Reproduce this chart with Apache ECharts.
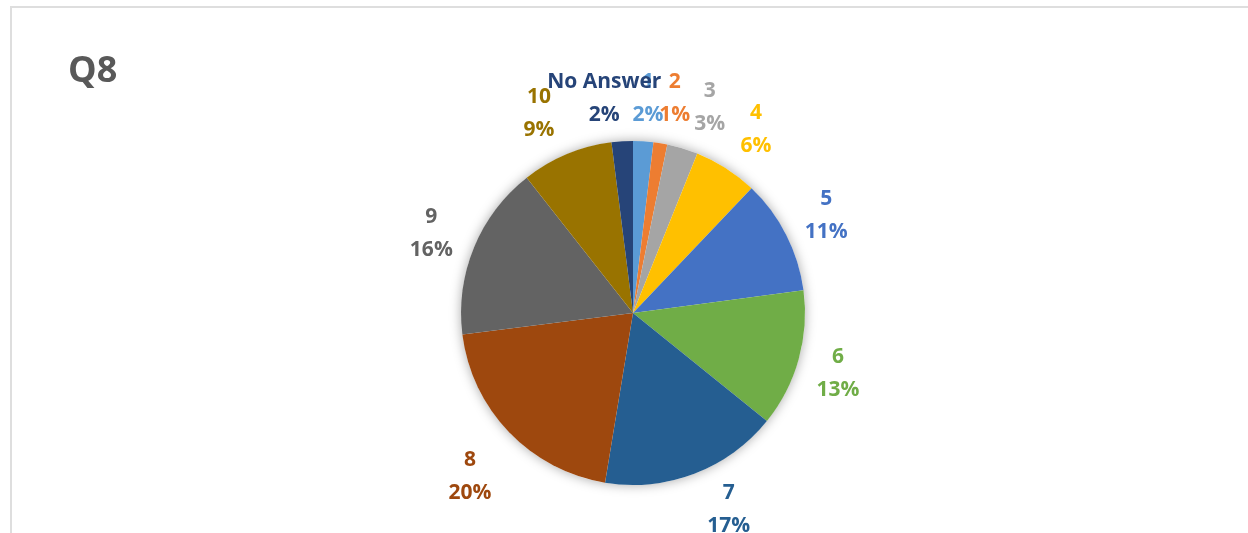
<!DOCTYPE html>
<html>
<head>
<meta charset="utf-8">
<script src="https://cdn.jsdelivr.net/npm/echarts@6/dist/echarts.min.js"></script>
<style>
html, body { margin: 0; padding: 0; background: #fff; }
#frame { position: absolute; left: 10px; top: 6px; width: 1240px; height: 530px; border-top: 2px solid #dedede; border-left: 2px solid #dedede; }
#chart { position: absolute; left: 0; top: 0; width: 1248px; height: 533px; }
</style>
</head>
<body>
<div id="frame"></div>
<div id="chart"></div>
<script>
// Q8 answers (share of respondents, %)
var categories = ['1', '2', '3', '4', '5', '6', '7', '8', '9', '10', 'No Answer'];
var shares = [1.9, 1.3, 2.9, 6.0, 10.8, 12.9, 16.8, 20.4, 16.4, 8.6, 2.0];

// office palette, one per slice
var sliceColors = ['#5B9BD5', '#ED7D31', '#A5A5A5', '#FFC000', '#4472C4', '#70AD47',
	'#255E91', '#9E480E', '#636363', '#997300', '#264478'];

// labels nudged the way Excel placed them
var labelNudge = {
	'No Answer': [-15, 3],
	'1': [2, 3],
	'2': [7, 1],
	'3': [14, 3],
	'4': [5, 0],
	'5': [-1, 1],
	'6': [-5, 2],
	'7': [18, -7],
	'8': [-6, 12],
	'9': [0, 3],
	'10': [-10, 2]
};

var pieCenter = [633, 313];
var pieRadius = 172;
var labelFont = 'Open Sans';

var chart = echarts.init(document.getElementById('chart'));

var total = shares.reduce(function (a, b) { return a + b; }, 0);

var option = {
	animation: false,
	title: {
		text: 'Q8',
		left: 68,
		top: 54,
		padding: 0,
		textStyle: { fontFamily: labelFont, fontWeight: 'bold', fontSize: 36, color: '#595959' }
	},
	series: [
		{
			// soft shadow under the pie
			type: 'pie',
			silent: true,
			z: 1,
			center: pieCenter,
			radius: pieRadius,
			label: { show: false },
			labelLine: { show: false },
			itemStyle: { color: '#ffffff', shadowBlur: 12, shadowColor: 'rgba(0,0,0,0.35)' },
			data: [{ value: total }]
		},
		{
			type: 'pie',
			silent: true,
			z: 2,
			center: pieCenter,
			radius: pieRadius,
			startAngle: 90,
			clockwise: true,
			label: { show: false },
			labelLine: { show: false },
			itemStyle: { borderWidth: 0 },
			data: categories.map(function (c, i) {
				return { name: c, value: shares[i], itemStyle: { color: sliceColors[i] } };
			})
		},
		{
			// transparent ring, only carries the labels
			type: 'pie',
			silent: true,
			z: 3,
			center: pieCenter,
			radius: [pieRadius, 258],
			startAngle: 90,
			clockwise: true,
			percentPrecision: 0,
			avoidLabelOverlap: false,
			labelLayout: { hideOverlap: false },
			itemStyle: { color: 'transparent' },
			labelLine: { show: false },
			label: {
				show: true,
				position: 'inside',
				formatter: '{b}\n{d}%',
				fontFamily: labelFont,
				fontWeight: 'bold',
				fontSize: 21,
				lineHeight: 33
			},
			data: categories.map(function (c, i) {
				return {
					name: c,
					value: shares[i],
					label: { color: sliceColors[i], offset: labelNudge[c] || [0, 0] }
				};
			})
		}
	]
};

chart.setOption(option);
window.addEventListener('resize', function () {
	chart.resize();
});
</script>
</body>
</html>
